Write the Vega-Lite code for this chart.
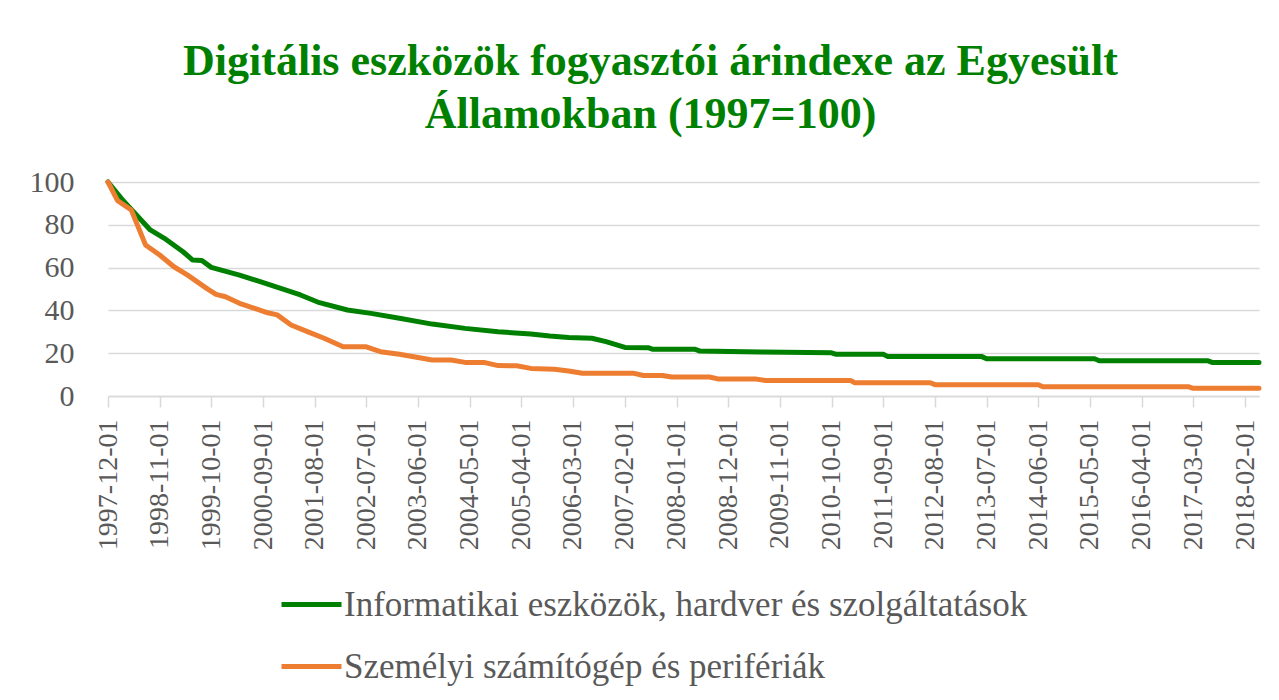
{
  "$schema": "https://vega.github.io/schema/vega-lite/v6.json",
  "width": 1151,
  "height": 214,
  "autosize": {"type": "none"},
  "padding": {"left": 108, "top": 182, "right": 20, "bottom": 304},
  "background": "white",
  "title": {
    "text": ["Digitális eszközök fogyasztói árindexe az Egyesült", "Államokban (1997=100)"],
    "anchor": "middle",
    "dx": -33,
    "offset": 30,
    "font": "Liberation Serif",
    "fontSize": 44,
    "fontWeight": "bold",
    "color": "#008000",
    "lineHeight": 53
  },
  "config": {
    "view": {"stroke": null}
  },
  "data": {
    "values": [
      {"d": "1997-12-01", "s": "Informatikai eszközök, hardver és szolgáltatások", "v": 100},
      {"d": "1998-03-01", "s": "Informatikai eszközök, hardver és szolgáltatások", "v": 92},
      {"d": "1998-09-01", "s": "Informatikai eszközök, hardver és szolgáltatások", "v": 77.6},
      {"d": "1998-12-01", "s": "Informatikai eszközök, hardver és szolgáltatások", "v": 73.7},
      {"d": "1999-04-01", "s": "Informatikai eszközök, hardver és szolgáltatások", "v": 67.4},
      {"d": "1999-06-01", "s": "Informatikai eszközök, hardver és szolgáltatások", "v": 63.6},
      {"d": "1999-08-01", "s": "Informatikai eszközök, hardver és szolgáltatások", "v": 63.3},
      {"d": "1999-10-01", "s": "Informatikai eszközök, hardver és szolgáltatások", "v": 60.1},
      {"d": "2000-04-01", "s": "Informatikai eszközök, hardver és szolgáltatások", "v": 56.5},
      {"d": "2000-10-01", "s": "Informatikai eszközök, hardver és szolgáltatások", "v": 52.3},
      {"d": "2001-05-01", "s": "Informatikai eszközök, hardver és szolgáltatások", "v": 47.2},
      {"d": "2001-09-01", "s": "Informatikai eszközök, hardver és szolgáltatások", "v": 43.6},
      {"d": "2002-03-01", "s": "Informatikai eszközök, hardver és szolgáltatások", "v": 40.2},
      {"d": "2002-08-01", "s": "Informatikai eszközök, hardver és szolgáltatások", "v": 38.6},
      {"d": "2003-02-01", "s": "Informatikai eszközök, hardver és szolgáltatások", "v": 36.3},
      {"d": "2003-09-01", "s": "Informatikai eszközök, hardver és szolgáltatások", "v": 33.6},
      {"d": "2004-04-01", "s": "Informatikai eszközök, hardver és szolgáltatások", "v": 31.6},
      {"d": "2004-11-01", "s": "Informatikai eszközök, hardver és szolgáltatások", "v": 30.0},
      {"d": "2005-06-01", "s": "Informatikai eszközök, hardver és szolgáltatások", "v": 29.0},
      {"d": "2005-10-01", "s": "Informatikai eszközök, hardver és szolgáltatások", "v": 28.0},
      {"d": "2006-02-01", "s": "Informatikai eszközök, hardver és szolgáltatások", "v": 27.3},
      {"d": "2006-07-01", "s": "Informatikai eszközök, hardver és szolgáltatások", "v": 27.0},
      {"d": "2006-10-01", "s": "Informatikai eszközök, hardver és szolgáltatások", "v": 25.4},
      {"d": "2007-02-01", "s": "Informatikai eszközök, hardver és szolgáltatások", "v": 22.7},
      {"d": "2007-07-01", "s": "Informatikai eszközök, hardver és szolgáltatások", "v": 22.6},
      {"d": "2007-08-01", "s": "Informatikai eszközök, hardver és szolgáltatások", "v": 21.8},
      {"d": "2008-05-01", "s": "Informatikai eszközök, hardver és szolgáltatások", "v": 21.8},
      {"d": "2008-06-01", "s": "Informatikai eszközök, hardver és szolgáltatások", "v": 21.0},
      {"d": "2009-07-01", "s": "Informatikai eszközök, hardver és szolgáltatások", "v": 20.6},
      {"d": "2010-10-01", "s": "Informatikai eszközök, hardver és szolgáltatások", "v": 20.2},
      {"d": "2010-11-01", "s": "Informatikai eszközök, hardver és szolgáltatások", "v": 19.5},
      {"d": "2011-09-01", "s": "Informatikai eszközök, hardver és szolgáltatások", "v": 19.5},
      {"d": "2011-10-01", "s": "Informatikai eszközök, hardver és szolgáltatások", "v": 18.4},
      {"d": "2013-06-01", "s": "Informatikai eszközök, hardver és szolgáltatások", "v": 18.4},
      {"d": "2013-07-01", "s": "Informatikai eszközök, hardver és szolgáltatások", "v": 17.4},
      {"d": "2015-06-01", "s": "Informatikai eszközök, hardver és szolgáltatások", "v": 17.4},
      {"d": "2015-07-01", "s": "Informatikai eszközök, hardver és szolgáltatások", "v": 16.5},
      {"d": "2017-06-01", "s": "Informatikai eszközök, hardver és szolgáltatások", "v": 16.5},
      {"d": "2017-07-01", "s": "Informatikai eszközök, hardver és szolgáltatások", "v": 15.7},
      {"d": "2018-05-01", "s": "Informatikai eszközök, hardver és szolgáltatások", "v": 15.7},
      {"d": "1997-12-01", "s": "Személyi számítógép és perifériák", "v": 100},
      {"d": "1998-02-01", "s": "Személyi számítógép és perifériák", "v": 91.3},
      {"d": "1998-05-01", "s": "Személyi számítógép és perifériák", "v": 86.9},
      {"d": "1998-08-01", "s": "Személyi számítógép és perifériák", "v": 70.6},
      {"d": "1998-11-01", "s": "Személyi számítógép és perifériák", "v": 65.9},
      {"d": "1999-02-01", "s": "Személyi számítógép és perifériák", "v": 60.4},
      {"d": "1999-05-01", "s": "Személyi számítógép és perifériák", "v": 56.5},
      {"d": "1999-09-01", "s": "Személyi számítógép és perifériák", "v": 50.3},
      {"d": "1999-11-01", "s": "Személyi számítógép és perifériák", "v": 47.5},
      {"d": "2000-01-01", "s": "Személyi számítógép és perifériák", "v": 46.4},
      {"d": "2000-04-01", "s": "Személyi számítógép és perifériák", "v": 43.3},
      {"d": "2000-10-01", "s": "Személyi számítógép és perifériák", "v": 38.9},
      {"d": "2000-12-01", "s": "Személyi számítógép és perifériák", "v": 37.9},
      {"d": "2001-03-01", "s": "Személyi számítógép és perifériák", "v": 33.2},
      {"d": "2001-07-01", "s": "Személyi számítógép és perifériák", "v": 29.6},
      {"d": "2001-10-01", "s": "Személyi számítógép és perifériák", "v": 27.0},
      {"d": "2002-02-01", "s": "Személyi számítógép és perifériák", "v": 23.0},
      {"d": "2002-07-01", "s": "Személyi számítógép és perifériák", "v": 23.0},
      {"d": "2002-10-01", "s": "Személyi számítógép és perifériák", "v": 20.7},
      {"d": "2003-02-01", "s": "Személyi számítógép és perifériák", "v": 19.5},
      {"d": "2003-09-01", "s": "Személyi számítógép és perifériák", "v": 16.8},
      {"d": "2004-01-01", "s": "Személyi számítógép és perifériák", "v": 16.8},
      {"d": "2004-04-01", "s": "Személyi számítógép és perifériák", "v": 15.7},
      {"d": "2004-08-01", "s": "Személyi számítógép és perifériák", "v": 15.7},
      {"d": "2004-11-01", "s": "Személyi számítógép és perifériák", "v": 14.2},
      {"d": "2005-03-01", "s": "Személyi számítógép és perifériák", "v": 14.1},
      {"d": "2005-06-01", "s": "Személyi számítógép és perifériák", "v": 12.9},
      {"d": "2005-11-01", "s": "Személyi számítógép és perifériák", "v": 12.5},
      {"d": "2006-02-01", "s": "Személyi számítógép és perifériák", "v": 11.7},
      {"d": "2006-05-01", "s": "Személyi számítógép és perifériák", "v": 10.6},
      {"d": "2007-04-01", "s": "Személyi számítógép és perifériák", "v": 10.6},
      {"d": "2007-06-01", "s": "Személyi számítógép és perifériák", "v": 9.6},
      {"d": "2007-10-01", "s": "Személyi számítógép és perifériák", "v": 9.6},
      {"d": "2007-12-01", "s": "Személyi számítógép és perifériák", "v": 8.9},
      {"d": "2008-08-01", "s": "Személyi számítógép és perifériák", "v": 8.9},
      {"d": "2008-10-01", "s": "Személyi számítógép és perifériák", "v": 7.9},
      {"d": "2009-06-01", "s": "Személyi számítógép és perifériák", "v": 7.9},
      {"d": "2009-08-01", "s": "Személyi számítógép és perifériák", "v": 7.2},
      {"d": "2011-02-01", "s": "Személyi számítógép és perifériák", "v": 7.2},
      {"d": "2011-03-01", "s": "Személyi számítógép és perifériák", "v": 6.2},
      {"d": "2012-07-01", "s": "Személyi számítógép és perifériák", "v": 6.2},
      {"d": "2012-08-01", "s": "Személyi számítógép és perifériák", "v": 5.3},
      {"d": "2014-06-01", "s": "Személyi számítógép és perifériák", "v": 5.3},
      {"d": "2014-07-01", "s": "Személyi számítógép és perifériák", "v": 4.3},
      {"d": "2017-02-01", "s": "Személyi számítógép és perifériák", "v": 4.3},
      {"d": "2017-03-01", "s": "Személyi számítógép és perifériák", "v": 3.6},
      {"d": "2018-05-01", "s": "Személyi számítógép és perifériák", "v": 3.6}
    ]
  },
  "mark": {"type": "line", "strokeWidth": 5, "strokeCap": "round", "strokeJoin": "round"},
  "encoding": {
    "x": {
      "field": "d",
      "type": "temporal",
      "scale": {"domain": ["1997-12-01", "2018-05-01"], "nice": false},
      "axis": {
        "title": null,
        "values": ["1997-12-01", "1998-11-01", "1999-10-01", "2000-09-01", "2001-08-01", "2002-07-01", "2003-06-01", "2004-05-01", "2005-04-01", "2006-03-01", "2007-02-01", "2008-01-01", "2008-12-01", "2009-11-01", "2010-10-01", "2011-09-01", "2012-08-01", "2013-07-01", "2014-06-01", "2015-05-01", "2016-04-01", "2017-03-01", "2018-02-01"],
        "format": "%Y-%m-%d",
        "labelFont": "Liberation Serif",
        "labelFontSize": 28,
        "labelColor": "#595959",
        "labelAngle": 270,
        "labelAlign": "right",
        "labelBaseline": "middle",
        "labelPadding": 12,
        "labelOverlap": false,
        "labelFlush": false,
        "tickSize": 11,
        "tickColor": "#d9d9d9",
        "tickWidth": 1.5,
        "domainColor": "#d9d9d9",
        "domainWidth": 1.5,
        "grid": false
      }
    },
    "y": {
      "field": "v",
      "type": "quantitative",
      "scale": {"domain": [0, 100], "nice": false},
      "axis": {
        "title": null,
        "values": [0, 20, 40, 60, 80, 100],
        "labelFont": "Liberation Serif",
        "labelFontSize": 30,
        "labelColor": "#595959",
        "domain": false,
        "ticks": false,
        "labelPadding": 34,
        "gridColor": "#d9d9d9",
        "gridWidth": 1.5
      }
    },
    "color": {
      "field": "s",
      "type": "nominal",
      "scale": {
        "domain": ["Informatikai eszközök, hardver és szolgáltatások", "Személyi számítógép és perifériák"],
        "range": ["#008000", "#ED7D31"]
      },
      "legend": {
        "title": null,
        "orient": "none",
        "legendX": 171,
        "legendY": 390,
        "direction": "vertical",
        "symbolType": "stroke",
        "symbolSize": 3600,
        "symbolStrokeWidth": 5,
        "labelFont": "Liberation Serif",
        "labelFontSize": 35,
        "labelColor": "#595959",
        "labelOffset": 0,
        "labelLimit": 1000,
        "rowPadding": 11
      }
    }
  }
}
